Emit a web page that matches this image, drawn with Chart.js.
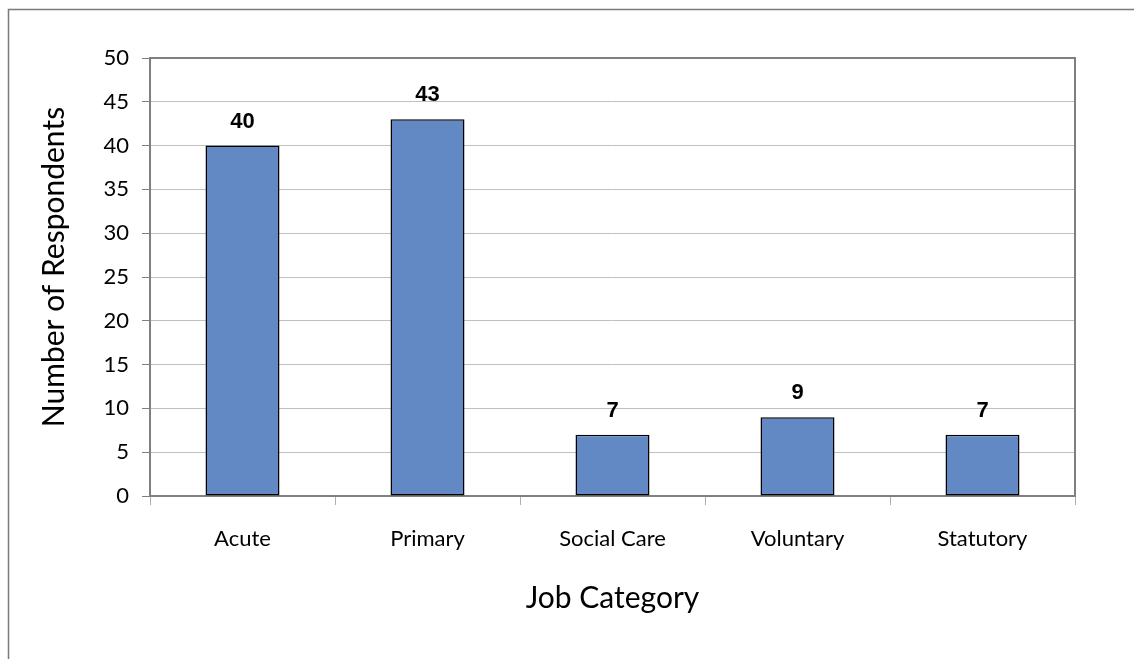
<!DOCTYPE html>
<html>
<head>
<meta charset="utf-8">
<script src="https://cdn.jsdelivr.net/npm/chart.js@4/dist/chart.umd.min.js"></script>
<style>
  html, body { margin: 0; padding: 0; background: #fff; }
  #wrap { width: 1134px; height: 659px; }
</style>
</head>
<body>
<div id="wrap"><canvas id="myChart" width="1134" height="659"></canvas></div>
<script>
const categories = ["Acute", "Primary", "Social Care", "Voluntary", "Statutory"];
const respondents = [40, 43, 7, 9, 7];
const yTicks = [0, 5, 10, 15, 20, 25, 30, 35, 40, 45, 50];

const textFont = "Lato";
const yTitle = "Number of Respondents";

// white page with the grey outer frame
const outerFrame = {
  id: "outerFrame",
  beforeDraw(chart) {
    const ctx = chart.ctx;
    ctx.save();
    ctx.fillStyle = "#fff";
    ctx.fillRect(0, 0, chart.width, chart.height);
    ctx.strokeStyle = "#7a7a7a";
    ctx.lineWidth = 1.5;
    ctx.strokeRect(8.5, 9.5, chart.width + 20, chart.height + 20);
    ctx.restore();
  },
};

// grey box round the plot area
const plotFrame = {
  id: "plotFrame",
  beforeDatasetsDraw(chart) {
    const { ctx, chartArea } = chart;
    ctx.save();
    ctx.strokeStyle = "#808080";
    ctx.lineWidth = 2;
    ctx.strokeRect(chartArea.left, chartArea.top, chartArea.right - chartArea.left, chartArea.bottom - chartArea.top);
    ctx.restore();
  },
};

// y title sits a little above the plot centre in the original
const yAxisTitle = {
  id: "yAxisTitle",
  afterDraw(chart) {
    const ctx = chart.ctx;
    const area = chart.chartArea;
    ctx.save();
    ctx.translate(54, (area.top + area.bottom) / 2 - 10);
    ctx.rotate(-Math.PI / 2);
    ctx.fillStyle = "#000";
    ctx.font = "30px " + textFont;
    ctx.textAlign = "center";
    ctx.textBaseline = "middle";
    ctx.fillText(yTitle, 0, 0);
    ctx.restore();
  },
};

// value above each bar
const barValues = {
  id: "barValues",
  afterDatasetsDraw(chart) {
    const ctx = chart.ctx;
    const meta = chart.getDatasetMeta(0);
    ctx.save();
    ctx.fillStyle = "#000";
    ctx.font = "bold 22px 'Liberation Sans'";
    ctx.textAlign = "center";
    ctx.textBaseline = "middle";
    meta.data.forEach((bar, i) => {
      ctx.fillText(String(respondents[i]), bar.x, bar.y - 24);
    });
    ctx.restore();
  },
};

const data = {
  labels: categories,
  datasets: [
    {
      label: yTitle,
      data: respondents,
      backgroundColor: "#6389c4",
      borderColor: "#000",
      borderWidth: 1.5,
      borderSkipped: false,
      barPercentage: 0.4,
      categoryPercentage: 1.0,
    },
  ],
};

const config = {
  type: "bar",
  data: data,
  plugins: [outerFrame, plotFrame, barValues, yAxisTitle],
  options: {
    responsive: false,
    animation: false,
    layout: { padding: { top: 58, right: 59, bottom: 0, left: 0 } },
    plugins: {
      legend: { display: false },
      tooltip: { enabled: false },
    },
    scales: {
      x: {
        afterFit(scale) { scale.height = 163; },
        border: { display: false },
        grid: {
          display: true,
          drawOnChartArea: false,
          offset: true,
          tickLength: 9,
          color: "#b0b0b0",
        },
        ticks: {
          color: "#000",
          padding: 21,
          font: { family: textFont, size: 22 },
        },
        title: {
          display: true,
          text: "Job Category",
          color: "#000",
          font: { family: textFont, size: 30 },
          padding: { top: 0, bottom: 43 },
        },
      },
      y: {
        min: 0,
        max: 50,
        afterFit(scale) { scale.width = 150; },
        afterBuildTicks(scale) { scale.ticks = yTicks.map(v => ({ value: v })); },
        border: { display: false },
        grid: {
          color: "#c0c0c0",
          tickColor: "#808080",
          tickLength: 8,
        },
        ticks: {
          color: "#000",
          padding: 13,
          font: { family: textFont, size: 22 },
        },
        title: { display: false },
      },
    },
  },
};

const myChart = new Chart(document.getElementById("myChart"), config);
</script>
</body>
</html>
